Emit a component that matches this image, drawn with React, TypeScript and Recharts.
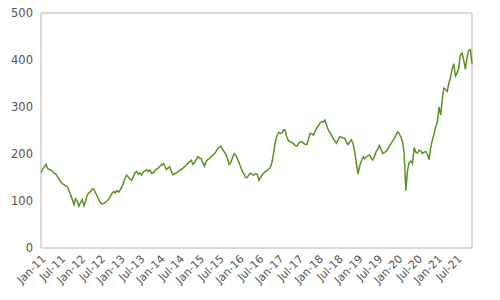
import { LineChart, Line, XAxis, YAxis, CartesianGrid } from "recharts"

// semi-monthly readings (1st and 16th of each month)
const years = [2011, 2012, 2013, 2014, 2015, 2016, 2017, 2018, 2019, 2020, 2021]

const v2011 = [160, 168, 172, 178, 170, 167, 166, 163, 160, 158, 152, 147, 141, 137, 135, 132, 130, 122, 113, 104, 92, 105, 100, 89]
const v2012 = [97, 103, 90, 100, 112, 117, 120, 125, 126, 118, 111, 103, 97, 94, 95, 97, 100, 104, 110, 116, 120, 117, 122, 119]
const v2013 = [124, 130, 140, 150, 155, 151, 147, 144, 152, 160, 163, 157, 160, 155, 162, 164, 166, 163, 166, 159, 160, 164, 168, 170]
const v2014 = [174, 177, 180, 174, 167, 170, 173, 163, 156, 158, 160, 162, 165, 167, 170, 173, 176, 180, 183, 187, 178, 182, 188, 194]
const v2015 = [192, 190, 181, 174, 184, 188, 190, 194, 197, 200, 205, 211, 214, 217, 210, 205, 199, 190, 178, 182, 192, 201, 198, 190]
const v2016 = [181, 172, 162, 157, 150, 150, 157, 159, 156, 155, 158, 157, 144, 150, 156, 160, 163, 165, 168, 172, 185, 205, 228, 240]
const v2017 = [246, 244, 245, 252, 250, 235, 228, 226, 224, 222, 218, 217, 222, 226, 226, 223, 220, 220, 232, 244, 243, 240, 248, 255]
const v2018 = [260, 266, 269, 268, 272, 262, 251, 246, 240, 233, 228, 223, 230, 237, 236, 234, 233, 226, 220, 226, 230, 222, 205, 180]
const v2019 = [157, 175, 185, 194, 190, 194, 196, 198, 192, 187, 195, 205, 210, 218, 210, 201, 203, 206, 210, 216, 222, 228, 233, 240]
const v2020 = [247, 243, 235, 225, 200, 122, 165, 182, 185, 180, 214, 204, 202, 208, 206, 201, 204, 205, 200, 188, 214, 230, 242, 258]
const v2021 = [268, 300, 283, 318, 340, 338, 333, 350, 362, 380, 392, 366, 372, 382, 410, 415, 400, 380, 405, 420, 422, 392]

const seriesByYear = [v2011, v2012, v2013, v2014, v2015, v2016, v2017, v2018, v2019, v2020, v2021]

const yTicks = [0, 100, 200, 300, 400, 500]
const monthNames = ["Jan", "Jul"]

const data = seriesByYear.flatMap((vals, yi) =>
  vals.map((value, k) => ({
    t: Date.UTC(years[yi], Math.floor(k / 2), k % 2 ? 16 : 1),
    value,
  }))
)

const xTicks = years.flatMap((y) => [Date.UTC(y, 0, 1), Date.UTC(y, 6, 1)])
const xStart = data[0].t
const xEnd = data[data.length - 1].t

function formatTick(t: number) {
  const d = new Date(t)
  const name = monthNames[d.getUTCMonth() === 0 ? 0 : 1]
  return `${name}-${String(d.getUTCFullYear()).slice(2)}`
}

const axisColor = "#b4b4b4"
const textStyle = { fill: "#555", fontSize: 11, fontFamily: "DejaVu Sans" }
const margin = { top: 13, right: 28, left: 0, bottom: 0 }
const yAxisWidth = 41
const xAxisHeight = 52

export default function App() {
  return (
    <div style={{ position: "absolute", left: 0, top: 0, width: 500, height: 300, background: "#fff" }}>
      <LineChart width={500} height={300} data={data} margin={margin}>
        {/* top and right edges of the plot frame, as single grid lines */}
        <CartesianGrid
          stroke={axisColor}
          horizontalValues={[500]}
          verticalValues={[xEnd]}
        />
        <XAxis
          dataKey="t"
          type="number"
          domain={[xStart, xEnd]}
          ticks={xTicks}
          tickFormatter={formatTick}
          interval={0}
          angle={-45}
          textAnchor="end"
          tickLine={false}
          tickMargin={0}
          height={xAxisHeight}
          stroke={axisColor}
          tick={textStyle}
        />
        <YAxis
          domain={[0, 500]}
          ticks={yTicks}
          tickLine={false}
          width={yAxisWidth}
          tickMargin={2}
          stroke={axisColor}
          tick={{ ...textStyle, fontSize: 11.5 }}
        />
        <Line
          dataKey="value"
          type="linear"
          stroke="#5a9224"
          strokeWidth={1.5}
          dot={false}
          isAnimationActive={false}
        />
      </LineChart>
    </div>
  )
}
